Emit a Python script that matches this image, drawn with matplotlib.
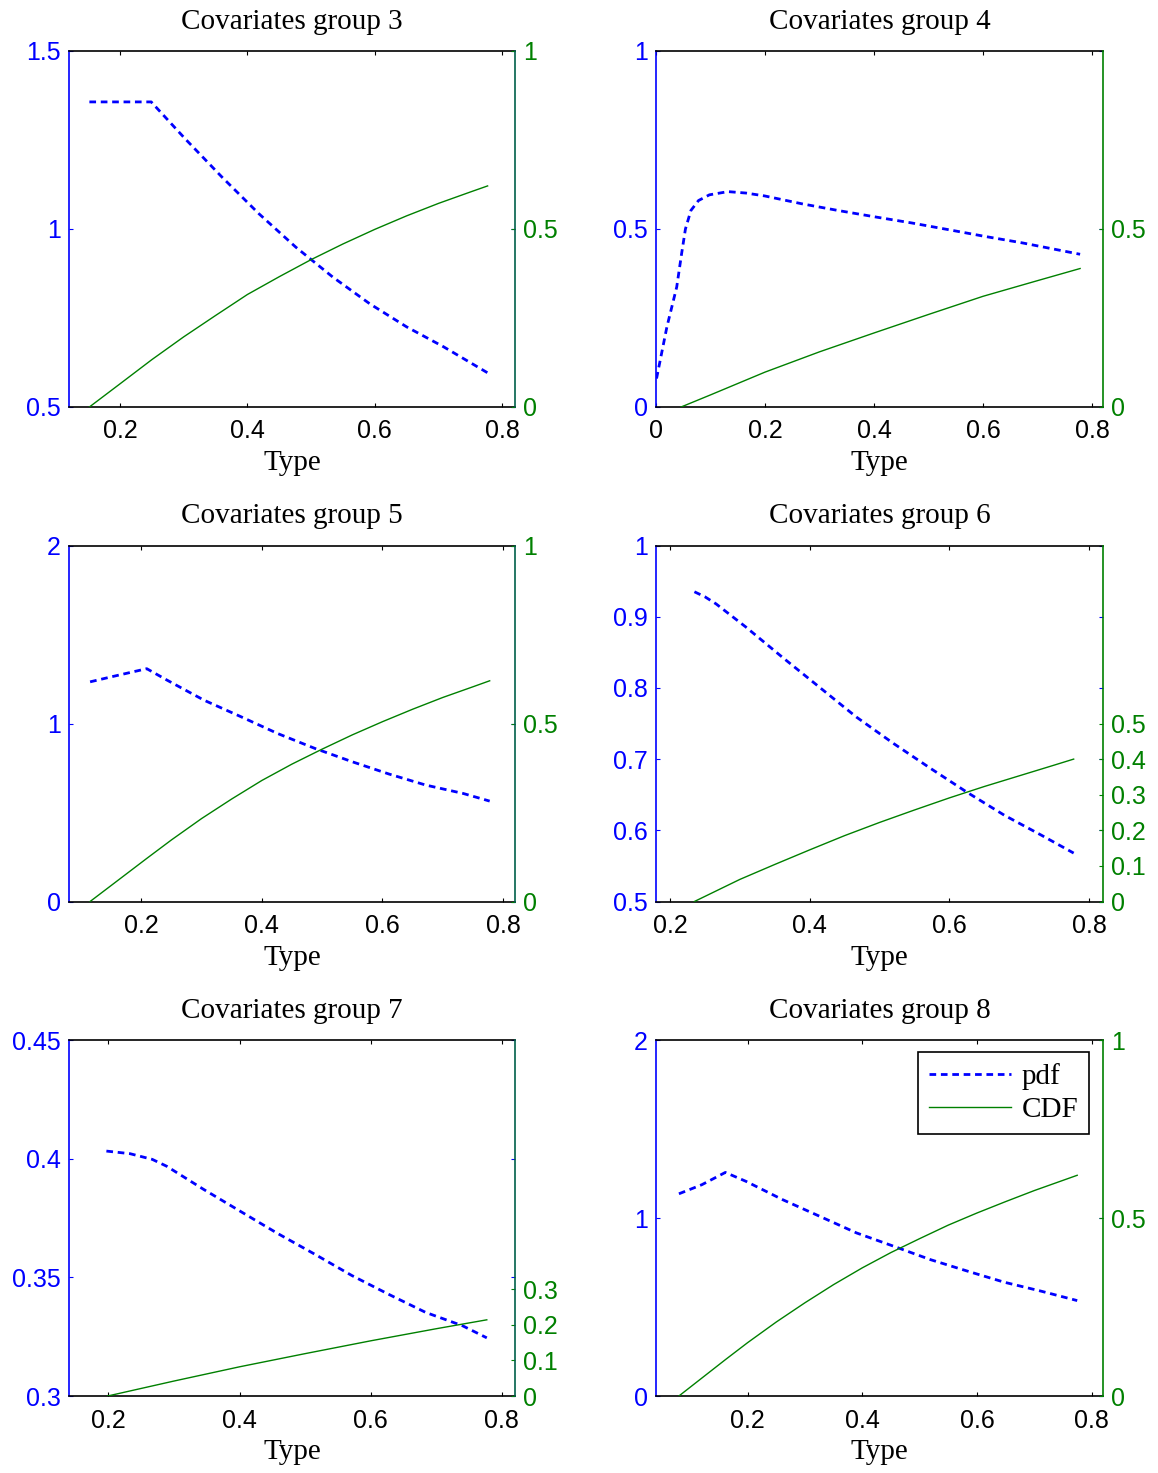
import matplotlib
matplotlib.use('Agg')
import matplotlib.pyplot as plt
from matplotlib.ticker import FormatStrFormatter

plt.rcParams['font.family'] = 'Liberation Sans'
serif = 'Liberation Serif'
blue = '#0000ff'
green = '#008000'

# ---- data: x = type, pdf on left axis, CDF on right axis ----
# group 3
type_pdf_3 = [0.152, 0.249, 0.302, 0.360, 0.418, 0.476, 0.534, 0.592, 0.650, 0.708, 0.777]
pdf_3 = [1.357, 1.357, 1.254, 1.146, 1.043, 0.949, 0.865, 0.790, 0.725, 0.669, 0.596]
type_cdf_3 = [0.152, 0.20, 0.25, 0.30, 0.35, 0.40, 0.45, 0.50, 0.55, 0.60, 0.65, 0.70, 0.75, 0.777]
cdf_3 = [0.0, 0.065, 0.133, 0.197, 0.257, 0.316, 0.366, 0.414, 0.458, 0.499, 0.537, 0.572, 0.604, 0.621]

# group 4
type_pdf_4 = [0.001, 0.020, 0.038, 0.047, 0.054, 0.064, 0.078, 0.098, 0.132, 0.165, 0.199,
              0.267, 0.334, 0.402, 0.469, 0.537, 0.604, 0.672, 0.778]
pdf_4 = [0.08, 0.225, 0.337, 0.431, 0.50, 0.552, 0.580, 0.596, 0.605, 0.601, 0.593,
         0.571, 0.552, 0.534, 0.517, 0.498, 0.479, 0.461, 0.429]
type_cdf_4 = [0.046, 0.10, 0.20, 0.30, 0.40, 0.50, 0.60, 0.70, 0.778]
cdf_4 = [0.0, 0.034, 0.098, 0.155, 0.208, 0.260, 0.311, 0.355, 0.389]

# group 5
type_pdf_5 = [0.115, 0.150, 0.209, 0.243, 0.304, 0.366, 0.426, 0.488, 0.550, 0.611, 0.672, 0.734, 0.778]
pdf_5 = [1.234, 1.262, 1.308, 1.243, 1.131, 1.037, 0.944, 0.860, 0.785, 0.716, 0.654, 0.607, 0.564]
type_cdf_5 = [0.115, 0.15, 0.209, 0.25, 0.30, 0.35, 0.40, 0.45, 0.50, 0.55, 0.60, 0.65, 0.70, 0.75, 0.778]
cdf_5 = [0.0, 0.045, 0.121, 0.173, 0.233, 0.288, 0.340, 0.386, 0.428, 0.468, 0.505, 0.540, 0.573, 0.603, 0.620]

# group 6
type_pdf_6 = [0.235, 0.250, 0.266, 0.308, 0.361, 0.414, 0.467, 0.520, 0.573, 0.626, 0.679, 0.732, 0.778]
pdf_6 = [0.935, 0.928, 0.918, 0.886, 0.843, 0.801, 0.759, 0.722, 0.687, 0.653, 0.621, 0.593, 0.568]
type_cdf_6 = [0.235, 0.30, 0.35, 0.40, 0.45, 0.50, 0.55, 0.60, 0.65, 0.70, 0.75, 0.778]
cdf_6 = [0.0, 0.062, 0.104, 0.145, 0.185, 0.222, 0.257, 0.291, 0.323, 0.353, 0.383, 0.400]

# group 7
type_pdf_7 = [0.197, 0.233, 0.267, 0.289, 0.345, 0.402, 0.458, 0.515, 0.571, 0.627, 0.684, 0.740, 0.777]
pdf_7 = [0.4032, 0.4021, 0.3997, 0.3968, 0.3871, 0.3777, 0.3685, 0.3597, 0.3508, 0.3429, 0.3352, 0.3296, 0.3245]
type_cdf_7 = [0.199, 0.30, 0.40, 0.50, 0.60, 0.70, 0.777]
cdf_7 = [0.0, 0.042, 0.082, 0.119, 0.155, 0.189, 0.214]

# group 8
type_pdf_8 = [0.080, 0.120, 0.161, 0.197, 0.261, 0.326, 0.390, 0.455, 0.519, 0.584, 0.648, 0.712, 0.775]
pdf_8 = [1.136, 1.187, 1.256, 1.206, 1.103, 1.009, 0.916, 0.841, 0.766, 0.701, 0.639, 0.589, 0.536]
type_cdf_8 = [0.080, 0.161, 0.20, 0.25, 0.30, 0.35, 0.40, 0.45, 0.50, 0.55, 0.60, 0.65, 0.70, 0.775]
cdf_8 = [0.0, 0.102, 0.150, 0.208, 0.262, 0.313, 0.360, 0.403, 0.442, 0.480, 0.514, 0.546, 0.577, 0.620]

groups = [3, 4, 5, 6, 7, 8]
pdf_x = [type_pdf_3, type_pdf_4, type_pdf_5, type_pdf_6, type_pdf_7, type_pdf_8]
pdf_y = [pdf_3, pdf_4, pdf_5, pdf_6, pdf_7, pdf_8]
cdf_x = [type_cdf_3, type_cdf_4, type_cdf_5, type_cdf_6, type_cdf_7, type_cdf_8]
cdf_y = [cdf_3, cdf_4, cdf_5, cdf_6, cdf_7, cdf_8]

# axis settings per panel
xlims = [(0.12, 0.82), (0.0, 0.82), (0.08, 0.82), (0.18, 0.82), (0.14, 0.82), (0.04, 0.82)]
xtick_sets = [[0.2, 0.4, 0.6, 0.8], [0, 0.2, 0.4, 0.6, 0.8], [0.2, 0.4, 0.6, 0.8],
              [0.2, 0.4, 0.6, 0.8], [0.2, 0.4, 0.6, 0.8], [0.2, 0.4, 0.6, 0.8]]
left_ylims = [(0.5, 1.5), (0, 1), (0, 2), (0.5, 1.0), (0.3, 0.45), (0, 2)]
left_yticks = [[0.5, 1, 1.5], [0, 0.5, 1], [0, 1, 2], [0.5, 0.6, 0.7, 0.8, 0.9, 1.0],
               [0.3, 0.35, 0.4, 0.45], [0, 1, 2]]
right_yticks = [[0, 0.5, 1], [0, 0.5], [0, 0.5, 1], [0, 0.1, 0.2, 0.3, 0.4, 0.5],
                [0, 0.1, 0.2, 0.3], [0, 0.5, 1]]
right_spine_colors = ['#00604a', green, '#00604a', green, '#00604a', green]

W, H = 1158, 1473
fig = plt.figure(figsize=(W / 100, H / 100), dpi=100)

col_left = [69, 656]
col_width = [446, 447]
row_top = [51, 545.5, 1040]
ax_h = 356

for i, g in enumerate(groups):
    r, c = divmod(i, 2)
    rect = [col_left[c] / W, 1 - (row_top[r] + ax_h) / H, col_width[c] / W, ax_h / H]
    ax = fig.add_axes(rect)
    ax2 = ax.twinx()

    l1, = ax.plot(pdf_x[i], pdf_y[i], color=blue, lw=2.0,
                  linestyle=(0, (2.4, 1.7)), label='pdf')
    l2, = ax2.plot(cdf_x[i], cdf_y[i], color=green, lw=1.0, label='CDF')

    ax.set_xlim(*xlims[i])
    ax.set_xticks(xtick_sets[i])
    ax.set_ylim(*left_ylims[i])
    ax.set_yticks(left_yticks[i])
    ax2.set_ylim(0, 1)
    ax2.set_yticks(right_yticks[i])
    for a in (ax, ax2):
        a.yaxis.set_major_formatter(FormatStrFormatter('%g'))
    ax.xaxis.set_major_formatter(FormatStrFormatter('%g'))

    ax.tick_params(axis='x', direction='in', top=True, length=3, width=0.8,
                   labelsize=18, pad=9, colors='black')
    ax.tick_params(axis='y', direction='in', right=True, length=3, width=0.8,
                   labelsize=18, pad=6, colors=blue)
    ax2.tick_params(axis='y', direction='in', length=3, width=0.8,
                    labelsize=18, pad=6, colors=green)

    for s in ('top', 'bottom'):
        ax.spines[s].set_color('black')
        ax.spines[s].set_linewidth(1.2)
    ax.spines['left'].set_color(blue)
    ax.spines['left'].set_linewidth(1.2)
    ax.spines['right'].set_visible(False)
    for s in ('top', 'bottom', 'left'):
        ax2.spines[s].set_visible(False)
    ax2.spines['right'].set_color(right_spine_colors[i])
    ax2.spines['right'].set_linewidth(1.2)

    ax.set_title('Covariates group %d' % g, family=serif, fontsize=21, pad=16)
    ax.set_xlabel('Type', family=serif, fontsize=21, labelpad=5)

    if g == 8:
        leg = ax2.legend([l1, l2], ['pdf', 'CDF'], loc='upper right',
                         bbox_to_anchor=(1 - 14 / 447, 1 - 12 / 356), borderaxespad=0,
                         prop={'family': serif, 'size': 21}, fancybox=False,
                         edgecolor='black', framealpha=1, handlelength=2.8,
                         handletextpad=0.35, labelspacing=0.22, borderpad=0.38)
        leg.get_frame().set_linewidth(1.2)

plt.savefig('out.png', dpi=100)
